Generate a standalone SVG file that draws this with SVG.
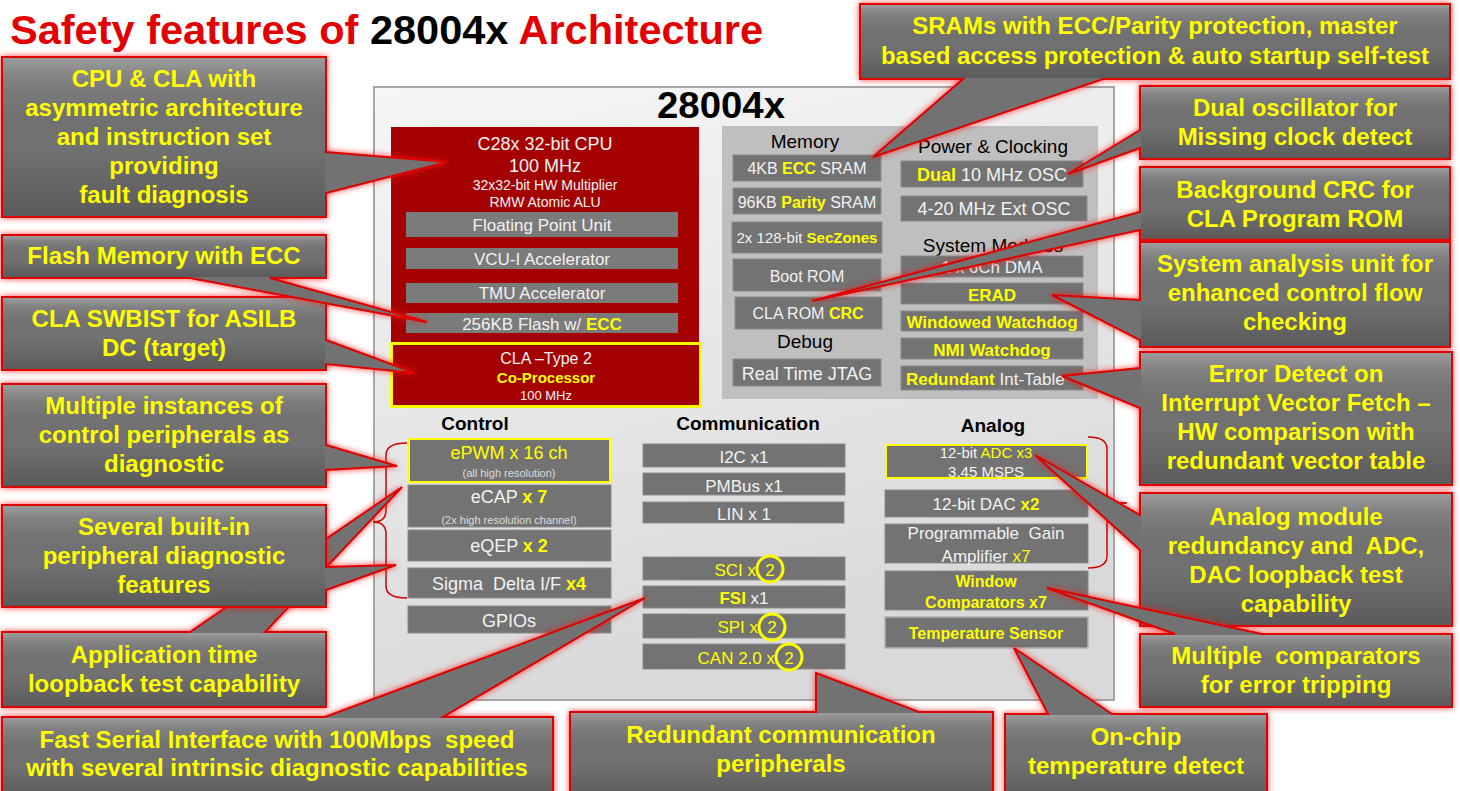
<svg xmlns="http://www.w3.org/2000/svg" width="1460" height="791" viewBox="0 0 1460 791">
<defs>
<linearGradient id="chipg" x1="0" y1="0" x2="0.3" y2="1">
<stop offset="0" stop-color="#f6f6f6"/><stop offset="1" stop-color="#d9d9d9"/>
</linearGradient>
<linearGradient id="hl" x1="0" y1="0" x2="0" y2="1">
<stop offset="0" stop-color="#ffffff" stop-opacity="0.30"/>
<stop offset="0.12" stop-color="#ffffff" stop-opacity="0.12"/>
<stop offset="0.55" stop-color="#000000" stop-opacity="0"/>
<stop offset="1" stop-color="#000000" stop-opacity="0.2"/>
</linearGradient>
<filter id="glow" filterUnits="userSpaceOnUse" x="-20" y="-20" width="1500" height="840" color-interpolation-filters="sRGB">
<feGaussianBlur in="SourceAlpha" stdDeviation="3" result="b"/>
<feFlood flood-color="#ff1010" flood-opacity="0.8"/>
<feComposite in2="b" operator="in" result="g"/>
<feMerge><feMergeNode in="g"/><feMergeNode in="SourceGraphic"/></feMerge>
</filter>
</defs>
<style>
text{font-family:"Liberation Sans",Arial,sans-serif}
.cb{fill:#727272;stroke:#e00000;stroke-width:2;stroke-linejoin:miter;filter:url(#glow)}
.ov{fill:url(#hl)}
.ct{font-weight:bold;font-size:24px;fill:#ffff00;text-anchor:middle}
.bx{fill:#737373;stroke:#8c8c8c;stroke-width:1}
.gb{fill:#7b7b7b}
.w{fill:#f2f2f2;text-anchor:middle}
.y{fill:#ffff00}
.b{font-weight:bold}
.hd{fill:#000;text-anchor:middle;font-size:19px}
.hb{fill:#000;text-anchor:middle;font-size:19px;font-weight:bold}
.br{fill:none;stroke:#d40000;stroke-width:1.5}
.yc{fill:none;stroke:#ffff00;stroke-width:3}
</style>
<rect width="1460" height="791" fill="#ffffff"/>

<g id="title">
<text x="10" y="44" font-size="41" font-weight="bold" textLength="753" lengthAdjust="spacingAndGlyphs" fill="#e30000">Safety features of <tspan fill="#000000">28004x</tspan> Architecture</text>
</g>

<g id="chip">
<rect x="374" y="87" width="740" height="613" fill="url(#chipg)" stroke="#a6a6a6" stroke-width="2"/>
<text x="721" y="118" font-size="36" font-weight="bold" text-anchor="middle" textLength="128" lengthAdjust="spacingAndGlyphs" fill="#000">28004x</text>
</g>

<g id="cpu">
<rect x="391" y="127" width="308" height="216" fill="#a50000"/>
<text class="w" x="545" y="150" font-size="18">C28x 32-bit CPU</text>
<text class="w" x="545" y="172" font-size="18">100 MHz</text>
<text class="w" x="545" y="190" font-size="14">32x32-bit HW Multiplier</text>
<text class="w" x="545" y="207" font-size="14">RMW Atomic ALU</text>
<rect class="gb" x="406" y="212" width="272" height="25"/>
<text class="w" x="542" y="231" font-size="17">Floating Point Unit</text>
<rect class="gb" x="406" y="248" width="272" height="21"/>
<text class="w" x="542" y="265" font-size="17">VCU-I Accelerator</text>
<rect class="gb" x="406" y="283" width="272" height="20"/>
<text class="w" x="542" y="299" font-size="17">TMU Accelerator</text>
<rect class="gb" x="406" y="313" width="272" height="20"/>
<text class="w" x="542" y="330" font-size="17">256KB Flash w/ <tspan class="y b">ECC</tspan></text>
</g>

<g id="cla">
<rect x="391.5" y="343.5" width="309" height="63" fill="#a50000" stroke="#ffff00" stroke-width="3"/>
<text class="w" x="546" y="364" font-size="16">CLA –Type 2</text>
<text class="y b" x="546" y="383" font-size="15" text-anchor="middle">Co-Processor</text>
<text class="w" x="546" y="400" font-size="13">100 MHz</text>
</g>

<g id="memory-panel">
<rect x="722" y="126" width="376" height="273" fill="#bfbfbf"/>
<text class="hd" x="805" y="148">Memory</text>
<text class="hd" x="993" y="153">Power &amp; Clocking</text>
<text class="hd" x="805" y="348">Debug</text>
<text class="hd" x="993" y="252">System Modules</text>
</g>

<g id="sram4">
<rect class="bx" x="733" y="155" width="148" height="26"/>
<text class="w" x="807" y="174" font-size="16">4KB <tspan class="y b">ECC</tspan> SRAM</text>
</g>
<g id="sram96">
<rect class="bx" x="733" y="188" width="148" height="26"/>
<text class="w" x="807" y="208" font-size="16">96KB <tspan class="y b">Parity</tspan> SRAM</text>
</g>
<g id="seczones">
<rect class="bx" x="732" y="222" width="150" height="31"/>
<text class="w" x="807" y="243" font-size="15">2x 128-bit <tspan class="y b">SecZones</tspan></text>
</g>
<g id="bootrom">
<rect class="bx" x="733" y="259" width="148" height="32"/>
<text class="w" x="807" y="282" font-size="16">Boot ROM</text>
</g>
<g id="clarom">
<rect class="bx" x="735" y="297" width="147" height="32"/>
<text class="w" x="808" y="319" font-size="16">CLA ROM <tspan class="y b">CRC</tspan></text>
</g>
<g id="jtag">
<rect class="bx" x="733" y="359" width="148" height="27"/>
<text class="w" x="807" y="380" font-size="18">Real Time JTAG</text>
</g>
<g id="osc10">
<rect class="bx" x="901" y="161" width="182" height="26"/>
<text class="w" x="992" y="181" font-size="18"><tspan class="y b">Dual</tspan> 10 MHz OSC</text>
</g>
<g id="extosc">
<rect class="bx" x="901" y="196" width="186" height="25"/>
<text class="w" x="994" y="215" font-size="18">4-20 MHz Ext OSC</text>
</g>
<g id="dma">
<rect class="bx" x="901" y="256" width="182" height="21"/>
<text class="w" x="992" y="273" font-size="17">1 x 6Ch DMA</text>
</g>
<g id="erad">
<rect class="bx" x="901" y="283" width="182" height="21"/>
<text class="y b" x="992" y="301" font-size="17" text-anchor="middle">ERAD</text>
</g>
<g id="wwd">
<rect class="bx" x="901" y="311" width="182" height="20"/>
<text class="y b" x="992" y="328" font-size="17" text-anchor="middle">Windowed Watchdog</text>
</g>
<g id="nmiwd">
<rect class="bx" x="901" y="338" width="182" height="21"/>
<text class="y b" x="992" y="356" font-size="17" text-anchor="middle">NMI Watchdog</text>
</g>
<g id="inttable">
<rect class="bx" x="901" y="366" width="182" height="24"/>
<text x="906" y="385" font-size="17" fill="#f2f2f2"><tspan class="y b">Redundant</tspan> Int-Table</text>
</g>

<g id="control">
<text class="hb" x="475" y="430">Control</text>
<path class="br" d="M407,443 Q386,443 386,455 V510 Q386,522 373,522 Q386,522 386,534 V586 Q386,598 407,598"/>
</g>
<g id="epwm">
<rect x="409" y="439" width="201" height="43" fill="#737373" stroke="#ffff00" stroke-width="2"/>
<text class="y" x="509" y="459" font-size="18" text-anchor="middle">ePWM x 16 ch</text>
<text x="509" y="477" font-size="11" fill="#dddddd" text-anchor="middle">(all high resolution)</text>
</g>
<g id="ecap">
<rect class="bx" x="408" y="485" width="203" height="42"/>
<text class="w" x="509" y="503" font-size="18">eCAP <tspan class="y b">x 7</tspan></text>
<text x="509" y="524" font-size="11" fill="#dddddd" text-anchor="middle">(2x high resolution channel)</text>
</g>
<g id="eqep">
<rect class="bx" x="408" y="530" width="203" height="31"/>
<text class="w" x="509" y="552" font-size="18">eQEP <tspan class="y b">x 2</tspan></text>
</g>
<g id="sdfm">
<rect class="bx" x="408" y="568" width="203" height="30"/>
<text class="w" x="509" y="590" font-size="18" xml:space="preserve">Sigma  Delta I/F <tspan class="y b">x4</tspan></text>
</g>
<g id="gpio">
<rect class="bx" x="408" y="606" width="203" height="27"/>
<text class="w" x="509" y="627" font-size="18">GPIOs</text>
</g>

<g id="communication">
<text class="hb" x="748" y="430">Communication</text>
</g>
<g id="i2c">
<rect class="bx" x="643" y="444" width="202" height="23"/>
<text class="w" x="744" y="463" font-size="17">I2C x1</text>
</g>
<g id="pmbus">
<rect class="bx" x="643" y="473" width="202" height="22"/>
<text class="w" x="744" y="492" font-size="17">PMBus x1</text>
</g>
<g id="lin">
<rect class="bx" x="643" y="502" width="201" height="21"/>
<text class="w" x="744" y="520" font-size="17">LIN x 1</text>
</g>
<g id="sci">
<rect class="bx" x="643" y="557" width="202" height="23"/>
<text class="y" x="756" y="576" font-size="17" text-anchor="end">SCI x</text>
<circle class="yc" cx="770" cy="569" r="13"/>
<text class="y" x="770" y="576" font-size="17" text-anchor="middle">2</text>
</g>
<g id="fsi">
<rect class="bx" x="643" y="586" width="202" height="22"/>
<text class="w" x="744" y="604" font-size="17"><tspan class="y b">FSI</tspan> x1</text>
</g>
<g id="spi">
<rect class="bx" x="643" y="614" width="202" height="24"/>
<text class="y" x="758" y="633" font-size="17" text-anchor="end">SPI x</text>
<circle class="yc" cx="772" cy="627" r="13"/>
<text class="y" x="772" y="633" font-size="17" text-anchor="middle">2</text>
</g>
<g id="can">
<rect class="bx" x="643" y="644" width="202" height="25"/>
<text class="y" x="775" y="664" font-size="17" text-anchor="end">CAN 2.0 x</text>
<circle class="yc" cx="789" cy="657" r="13"/>
<text class="y" x="789" y="664" font-size="17" text-anchor="middle">2</text>
</g>

<g id="analog">
<text class="hb" x="993" y="432">Analog</text>
<path class="br" d="M1088,437 Q1107,437 1107,449 V493 Q1107,503 1127,503 Q1107,503 1107,513 V556 Q1107,568 1088,568"/>
</g>
<g id="adc">
<rect x="886" y="445" width="201" height="33" fill="#737373" stroke="#ffff00" stroke-width="2"/>
<text class="w" x="986" y="458" font-size="15">12-bit <tspan class="y">ADC x3</tspan></text>
<text class="w" x="986" y="477" font-size="15">3.45 MSPS</text>
</g>
<g id="dac">
<rect class="bx" x="885" y="490" width="203" height="27"/>
<text class="w" x="986" y="510" font-size="17">12-bit DAC <tspan class="y b">x2</tspan></text>
</g>
<g id="pga">
<rect class="bx" x="885" y="524" width="203" height="39"/>
<text class="w" x="986" y="539" font-size="17" xml:space="preserve">Programmable  Gain</text>
<text class="w" x="986" y="562" font-size="17">Amplifier <tspan class="y">x7</tspan></text>
</g>
<g id="cmpss">
<rect class="bx" x="885" y="571" width="203" height="39"/>
<text class="y b" x="986" y="587" font-size="16" text-anchor="middle">Window</text>
<text class="y b" x="986" y="608" font-size="16" text-anchor="middle">Comparators x7</text>
</g>
<g id="tempsensor">
<rect x="885" y="617" width="203" height="31" fill="#737373" stroke="#b0b0b0" stroke-width="1.5"/>
<text class="y b" x="986" y="639" font-size="16" text-anchor="middle">Temperature Sensor</text>
</g>

<g id="callouts">
<g id="co-cpu">
<path class="cb" d="M2,57 H326 V152 L447,162 L326,193 V217 H2 Z"/>
<rect class="ov" x="3" y="58" width="322" height="158"/>
<text class="ct" x="164" y="87">CPU &amp; CLA with</text>
<text class="ct" x="164" y="116">asymmetric architecture</text>
<text class="ct" x="164" y="145">and instruction set</text>
<text class="ct" x="164" y="174">providing</text>
<text class="ct" x="164" y="203">fault diagnosis</text>
</g>
<g id="co-claswbist">
<path class="cb" d="M2,297 H326 V340 L415,373 L326,364 V370 H2 Z"/>
<rect class="ov" x="3" y="298" width="322" height="71"/>
<text class="ct" x="164" y="327">CLA SWBIST for ASILB</text>
<text class="ct" x="164" y="356">DC (target)</text>
</g>
<g id="co-flash">
<path class="cb" d="M2,235 H326 V278 H270 L427,322 L190,278 H2 Z"/>
<rect class="ov" x="3" y="236" width="322" height="41"/>
<text class="ct" x="164" y="264">Flash Memory with ECC</text>
</g>
<g id="co-multi">
<path class="cb" d="M2,384 H326 V445 L397,466 L326,470 V487 H2 Z"/>
<rect class="ov" x="3" y="385" width="322" height="101"/>
<text class="ct" x="164" y="414">Multiple instances of</text>
<text class="ct" x="164" y="443">control peripherals as</text>
<text class="ct" x="164" y="472">diagnostic</text>
</g>
<g id="co-app">
<path class="cb" d="M2,632 H190 L402,487 L265,632 H326 V707 H2 Z"/>
<rect class="ov" x="3" y="633" width="322" height="73"/>
<text class="ct" x="164" y="663">Application time</text>
<text class="ct" x="164" y="692">loopback test capability</text>
</g>
<g id="co-several">
<path class="cb" d="M2,505 H326 V567 L396,565 L326,590 V607 H2 Z"/>
<rect class="ov" x="3" y="506" width="322" height="100"/>
<text class="ct" x="164" y="535">Several built-in</text>
<text class="ct" x="164" y="564">peripheral diagnostic</text>
<text class="ct" x="164" y="593">features</text>
</g>
<g id="co-fsi">
<path class="cb" d="M2,717 H325 L645,598 L443,717 H553 V800 H2 Z"/>
<rect class="ov" x="3" y="718" width="549" height="80"/>
<text class="ct" x="277" y="748" xml:space="preserve">Fast Serial Interface with 100Mbps  speed</text>
<text class="ct" x="277" y="776">with several intrinsic diagnostic capabilities</text>
</g>
<g id="co-comm">
<path class="cb" d="M570,712 H816 V673 L919,712 H993 V800 H570 Z"/>
<rect class="ov" x="571" y="713" width="421" height="85"/>
<text class="ct" x="781" y="743">Redundant communication</text>
<text class="ct" x="781" y="772">peripherals</text>
</g>
<g id="co-temp">
<path class="cb" d="M1005,714 H1048 L1014,648 L1112,714 H1267 V800 H1005 Z"/>
<rect class="ov" x="1006" y="715" width="260" height="83"/>
<text class="ct" x="1136" y="745">On-chip</text>
<text class="ct" x="1136" y="774">temperature detect</text>
</g>
<g id="co-sram">
<path class="cb" d="M860,4 H1450 V79 H1103 L873,157 L963,79 H860 Z"/>
<rect class="ov" x="861" y="5" width="588" height="73"/>
<text class="ct" x="1155" y="34">SRAMs with ECC/Parity protection, master</text>
<text class="ct" x="1155" y="64">based access protection &amp; auto startup self-test</text>
</g>
<g id="co-osc">
<path class="cb" d="M1140,86 H1450 V159 H1140 V148 L1068,174 L1140,130 Z"/>
<rect class="ov" x="1141" y="87" width="308" height="71"/>
<text class="ct" x="1295" y="116">Dual oscillator for</text>
<text class="ct" x="1295" y="145">Missing clock detect</text>
</g>
<g id="co-crc">
<path class="cb" d="M1140,167 H1450 V240 H1140 V230 L812,301 L1140,212 Z"/>
<rect class="ov" x="1141" y="168" width="308" height="71"/>
<text class="ct" x="1295" y="198">Background CRC for</text>
<text class="ct" x="1295" y="227">CLA Program ROM</text>
</g>
<g id="co-erad">
<path class="cb" d="M1140,242 H1450 V347 H1140 V340 L1052,295 L1140,300 Z"/>
<rect class="ov" x="1141" y="243" width="308" height="103"/>
<text class="ct" x="1295" y="272">System analysis unit for</text>
<text class="ct" x="1295" y="301">enhanced control flow</text>
<text class="ct" x="1295" y="330">checking</text>
</g>
<g id="co-vector">
<path class="cb" d="M1140,352 H1452 V485 H1140 V408 L1062,376 L1140,368 Z"/>
<rect class="ov" x="1141" y="353" width="310" height="131"/>
<text class="ct" x="1296" y="382">Error Detect on</text>
<text class="ct" x="1296" y="411">Interrupt Vector Fetch –</text>
<text class="ct" x="1296" y="440">HW comparison with</text>
<text class="ct" x="1296" y="469">redundant vector table</text>
</g>
<g id="co-analog">
<path class="cb" d="M1140,493 H1452 V626 H1140 V550 L1035,455 L1140,515 Z"/>
<rect class="ov" x="1141" y="494" width="310" height="131"/>
<text class="ct" x="1296" y="525">Analog module</text>
<text class="ct" x="1296" y="554" xml:space="preserve">redundancy and  ADC,</text>
<text class="ct" x="1296" y="583">DAC loopback test</text>
<text class="ct" x="1296" y="612">capability</text>
</g>
<g id="co-cmp">
<path class="cb" d="M1140,634 H1175 L1047,588 L1262,634 H1452 V707 H1140 Z"/>
<rect class="ov" x="1141" y="635" width="310" height="71"/>
<text class="ct" x="1296" y="664" xml:space="preserve">Multiple  comparators</text>
<text class="ct" x="1296" y="693">for error tripping</text>
</g>
</g>
</svg>
